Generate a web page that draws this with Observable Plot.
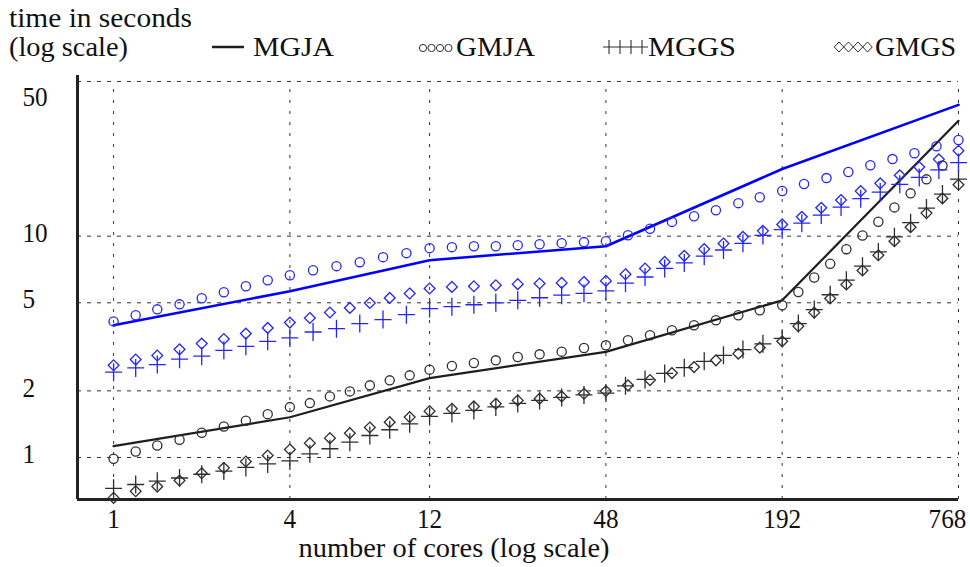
<!DOCTYPE html>
<html><head><meta charset="utf-8">
<script src="https://cdn.jsdelivr.net/npm/d3@7"></script>
<script src="https://cdn.jsdelivr.net/npm/@observablehq/plot@0.6"></script>
<style>
html,body{margin:0;padding:0;background:#fff;}
svg{display:block;}
</style></head><body>
<div id="chart"></div>
<script>
// ---- data ----
const coreTicks = [1, 4, 12, 48, 192];
const coreTickLast = [768];
const timeTicks = [1, 2, 5, 10];
const timeTickTop = [50];
const xLabel = "number of cores (log scale)";
const yLabel1 = "time in seconds";
const yLabel2 = "(log scale)";
const seriesNames = ["MGJA", "GMJA", "MGGS", "GMGS"];

const lineCores = [1, 4, 12, 48, 192, 768];
const mgjaBlue = [3.96, 5.64, 7.79, 9.01, 20.1, 39.2];
const mgjaBlack = [1.125, 1.52, 2.285, 3.0, 5.13, 33.2];

const gmjaBlueCores = [1,1.19,1.41,1.68,2,2.38,2.83,3.36,4, 4.8,5.77,6.93,8.32,10,12, 14.3,17,20.2,24,28.5,33.9,40.4,48, 57.1,67.9,80.7,96,114,136,161,192, 228,272,323,384,457,543,646,768];
const gmjaBlue = [4.12,4.39,4.67,4.92,5.24,5.58,5.94,6.32,6.66, 7.02,7.32,7.63,8.04,8.38,8.83, 8.92,9.01,9.01,9.11,9.20,9.30,9.40,9.49, 10.1,10.8,11.6,12.3,13.1,14.1,15.0,16.0, 17.2,18.3,19.5,20.9,22.3,23.7,25.5,27.2];

const gmgsBlueCores = [1,1.19,1.41,1.68,2,2.38,2.83,3.36,4, 4.68,5.48,6.41,7.5,8.77,10.26,12, 14.3,17,20.2,24,28.5,33.9,40.4,48, 56,65.3,76.2,88.9,104,121,141,165,192, 224,261,305,356,415,484,564,658,768];
const gmgsBlue = [2.61,2.77,2.89,3.08,3.27,3.43,3.63,3.85,4.07, 4.27,4.52,4.74,4.99,5.26,5.51,5.80, 5.90,5.94,6.00,6.07,6.11,6.15,6.21,6.28, 6.73,7.14,7.65,8.15,8.74,9.27,9.93,10.57,11.30, 12.23,13.43,14.55,15.98,17.32,18.83,20.52,22.24,24.32];

const mggsBlueCores = [1,1.19,1.41,1.68,2,2.38,2.83,3.36,4, 4.8,5.77,6.93,8.32,10,12, 14.3,17,20.2,24,28.5,33.9,40.4,48, 56,65.3,76.2,88.9,104,121,141,165,192, 224,261,305,356,415,484,564,658,768];
const mggsBlue = [2.43,2.54,2.63,2.78,2.87,3.05,3.18,3.35,3.47, 3.69,3.82,4.03,4.20,4.42,4.71, 4.80,4.90,5.00,5.13,5.27,5.41,5.52,5.66, 6.13,6.54,7.15,7.57,8.12,8.66,9.28,10.08,10.70, 11.45,12.45,13.53,14.77,15.82,17.14,18.42,19.93,21.51];

const gmjaBlackCores = [1,1.19,1.41,1.68,2,2.38,2.83,3.36,4, 4.68,5.48,6.41,7.5,8.77,10.26,12, 14.3,17,20.2,24,28.5,33.9,40.4,48, 57.1,67.9,80.7,96,114,136,161,192, 218,247,280,318,361,409,464,527,597,677];
const gmjaBlack = [0.987,1.064,1.133,1.202,1.294,1.381,1.466,1.570,1.689, 1.761,1.888,1.989,2.118,2.231,2.350,2.494, 2.589,2.671,2.748,2.844,2.925,3.008,3.123,3.212, 3.384,3.565,3.755,3.957,4.169,4.390,4.627,4.873, 5.597,6.504,7.509,8.735,10.07,11.61,13.49,15.61,18.06,20.84];

const gmgsBlackCores = [1,1.19,1.41,1.68,2,2.38,2.83,3.36,4, 4.68,5.48,6.41,7.5,8.77,10.26,12, 14.3,17,20.2,24,28.5,33.9,40.4,48, 57.1,67.9,80.7,96,114,136,161,192, 218,247,280,318,361,409,464,527,597,677,768];
const gmgsBlack = [0.657,0.704,0.739,0.787,0.849,0.898,0.959,1.021,1.087, 1.161,1.223,1.288,1.367,1.444,1.522,1.620, 1.661,1.701,1.750,1.811,1.844,1.888,1.942,1.995, 2.118,2.238,2.407,2.562,2.748,2.946,3.136,3.349, 3.916,4.515,5.226,6.045,6.997,8.204,9.493,10.98,12.71,14.81,17.07];

const mggsBlackCores = [1,1.19,1.41,1.68,2,2.38,2.83,3.36,4, 4.68,5.48,6.41,7.5,8.77,10.26,12, 14.3,17,20.2,24,28.5,33.9,40.4,48, 56,65.3,76.2,88.9,104,121,141,165,192, 218,247,280,318,361,409,464,527,597,677,768];
const mggsBlack = [0.726,0.755,0.782,0.808,0.840,0.868,0.902,0.935,0.965, 1.039,1.095,1.173,1.257,1.335,1.420,1.533, 1.582,1.632,1.692,1.755,1.811,1.868,1.918,1.954, 2.107,2.254,2.399,2.546,2.719,2.894,3.072,3.263,3.456, 4.027,4.660,5.437,6.324,7.316,8.492,9.927,11.51,13.39,15.49,18.11];

// ---- font selection ----
function hasFont(f) {
  const c = document.createElement("canvas").getContext("2d");
  const s = "time in seconds 0123456789 MGJA";
  c.font = "40px monospace"; const a = c.measureText(s).width;
  c.font = `40px '${f}', monospace`; const b = c.measureText(s).width;
  return Math.abs(a - b) > 0.5;
}
let FONT = "serif", FS = 25;
if (hasFont("Liberation Serif")) { FONT = "'Liberation Serif', serif"; FS = 27; }
else if (hasFont("DejaVu Serif")) { FONT = "'DejaVu Serif', serif"; FS = 23; }

// ---- build ----
const rows = (xs, ys) => xs.map((x, i) => ({x, y: ys[i]}));
const BLUE = "#0000ff", BLUE_M = "#2424ff", BLACK = "#1e1e1e", BLACK_M = "#2e2e2e";
const xMin = 0.753, yMin = 0.646, yMax = 53.2;
const DIGIT_W = 12.6;

const plusSym = {draw(ctx) { ctx.moveTo(-8.5, 0); ctx.lineTo(8.5, 0); ctx.moveTo(0, -9); ctx.lineTo(0, 9); }};
const diamondSym = {draw(ctx) { const r = 5.4; ctx.moveTo(0, -r); ctx.lineTo(r, 0); ctx.lineTo(0, r); ctx.lineTo(-r, 0); ctx.closePath(); }};

// legend / y title (above the plot)
const leg = d3.create("svg").attr("width", 970).attr("height", 70)
  .style("font-family", FONT).style("background", "#fff");
function t(x, y, s, len) {
  leg.append("text").attr("x", x).attr("y", y).attr("font-size", FS).attr("fill", "#111")
    .attr("textLength", len).attr("lengthAdjust", "spacingAndGlyphs").text(s);
}
t(9, 27, yLabel1, 183);
t(9, 56, yLabel2, 119);
const ly = 47;
leg.append("line").attr("x1", 212).attr("x2", 244).attr("y1", ly).attr("y2", ly).attr("stroke", BLACK).attr("stroke-width", 2.5);
t(253, 56, seriesNames[0], 81);
[423, 431.5, 440, 448.5].forEach(cx => leg.append("circle").attr("cx", cx).attr("cy", ly + 1).attr("r", 3.6).attr("fill", "none").attr("stroke", BLACK_M).attr("stroke-width", 1));
t(456, 56, seriesNames[1], 79);
leg.append("line").attr("x1", 603).attr("x2", 648).attr("y1", ly).attr("y2", ly).attr("stroke", BLACK_M).attr("stroke-width", 1.1);
[609, 620, 631, 642].forEach(cx => leg.append("line").attr("x1", cx).attr("x2", cx).attr("y1", ly - 7).attr("y2", ly + 7).attr("stroke", BLACK_M).attr("stroke-width", 1.1));
t(648, 56, seriesNames[2], 88);
[839, 848.5, 858, 867.5].forEach(cx => leg.append("path").attr("d", `M${cx},${ly - 5}L${cx + 4.75},${ly}L${cx},${ly + 5}L${cx - 4.75},${ly}Z`).attr("fill", "none").attr("stroke", BLACK_M).attr("stroke-width", 1));
t(875, 56, seriesNames[3], 81);

const dotOpts = (color, symbol, r) => ({x: "x", y: "y", symbol, r, stroke: color, fill: "none", strokeWidth: 1.3});
const allCoreTicks = coreTicks.concat(coreTickLast);

const plot = Plot.plot({
  width: 970, height: 497,
  marginLeft: 77, marginRight: 12, marginTop: 5, marginBottom: 68,
  style: {fontFamily: FONT, background: "#fff", color: "#111", overflow: "visible"},
  x: {type: "log", domain: [xMin, 768], axis: null},
  y: {type: "log", domain: [yMin, yMax], axis: null},
  marks: [
    Plot.ruleX(allCoreTicks, {y1: yMin, y2: 50, stroke: "#333", strokeDasharray: "3,8", strokeWidth: 1}),
    Plot.ruleY(timeTicks.concat(timeTickTop), {stroke: "#333", strokeDasharray: "4,6", strokeWidth: 1}),
    Plot.ruleX([xMin], {stroke: "#222", strokeWidth: 3}),
    Plot.ruleY([yMin], {stroke: "#222", strokeWidth: 3}),
    Plot.text(coreTicks, {x: d => d, text: d => String(d), frameAnchor: "bottom", lineAnchor: "middle", dy: 20, fontSize: FS, fill: "#111"}),
    Plot.text(coreTickLast, {x: d => d, text: d => String(d), frameAnchor: "bottom", lineAnchor: "middle", dx: -11, dy: 20, fontSize: FS, fill: "#111"}),
    Plot.text(timeTicks, {y: d => d, text: d => String(d), frameAnchor: "left", textAnchor: "start", lineAnchor: "middle", dx: -55, dy: -3, fontSize: FS, fill: "#111"}),
    Plot.text(timeTickTop, {y: d => d, text: d => String(d), frameAnchor: "left", textAnchor: "start", lineAnchor: "middle", dx: -55, dy: 16, fontSize: FS, fill: "#111"}),
    Plot.text([xLabel], {text: d => d, frameAnchor: "bottom", lineAnchor: "middle", dx: -64, dy: 49, fontSize: FS, fill: "#111"}),
    Plot.line(rows(lineCores, mgjaBlack), {x: "x", y: "y", stroke: BLACK, strokeWidth: 2.2}),
    Plot.line(rows(lineCores, mgjaBlue), {x: "x", y: "y", stroke: BLUE, strokeWidth: 2.6}),
    Plot.dot(rows(gmjaBlackCores, gmjaBlack), dotOpts(BLACK_M, "circle", 4.6)),
    Plot.dot(rows(gmgsBlackCores, gmgsBlack), dotOpts(BLACK_M, diamondSym, 5)),
    Plot.dot(rows(mggsBlackCores, mggsBlack), dotOpts(BLACK_M, plusSym, 8)),
    Plot.dot(rows(gmjaBlueCores, gmjaBlue), dotOpts(BLUE_M, "circle", 4.6)),
    Plot.dot(rows(gmgsBlueCores, gmgsBlue), dotOpts(BLUE_M, diamondSym, 5)),
    Plot.dot(rows(mggsBlueCores, mggsBlue), dotOpts(BLUE_M, plusSym, 8))
  ]
});

// set text widths to match the reference's typesetting
d3.select(plot).selectAll("text").each(function() {
  const s = this.textContent;
  const w = /^\d+$/.test(s) ? s.length * DIGIT_W : (s === xLabel ? 311 : null);
  if (w) d3.select(this).attr("textLength", w).attr("lengthAdjust", "spacingAndGlyphs");
});

const chart = document.getElementById("chart");
chart.appendChild(leg.node());
chart.appendChild(plot);
</script>
</body></html>
